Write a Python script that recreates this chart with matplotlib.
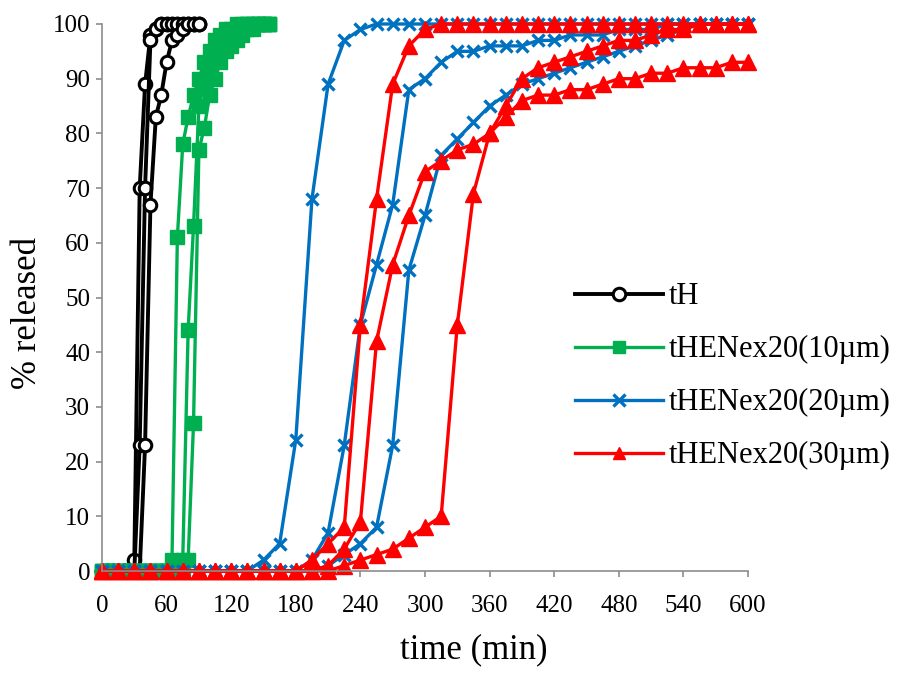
import matplotlib
matplotlib.use('Agg')
import matplotlib.pyplot as plt

plt.rcParams['font.family'] = ['Liberation Serif', 'DejaVu Serif']

# sampling times (min)
t_th = [0, 5, 10, 15, 20, 25, 30, 35, 40, 45, 50, 55, 60, 65, 70, 75, 80, 85, 90]
t_g = [0, 5, 10, 15, 20, 25, 30, 35, 40, 45, 50, 55, 60, 65, 70, 75,
       80, 85, 90, 95, 100, 105, 110, 115, 120, 125, 130, 135, 140, 145, 150, 155]
t_br = [0, 15, 30, 45, 60, 75, 90, 105, 120, 135, 150, 165, 180, 195, 210,
        225, 240, 255, 270, 285, 300, 315, 330, 345, 360, 375, 390, 405, 420,
        435, 450, 465, 480, 495, 510, 525, 540, 555, 570, 585, 600]

# tH, three replicates
th_1 = [0, 0, 0, 0, 0, 0, 2, 70, 89, 98, 99, 100, 100, 100, 100, 100, 100, 100, 100]
th_2 = [0, 0, 0, 0, 0, 0, 0, 23, 70, 97, 99, 100, 100, 100, 100, 100, 100, 100, 100]
th_3 = [0, 0, 0, 0, 0, 0, 0, 0, 23, 67, 83, 87, 93, 97, 98, 99, 100, 100, 100]

# tHENex20 (10 um)
g_1 = [0, 0, 0, 0, 0, 0, 0, 0, 0, 0, 0, 0, 0, 2, 61, 78,
       83, 87, 90, 93, 95, 97, 98, 99, 99, 100, 100, 100, 100, 100, 100, 100]
g_2 = [0, 0, 0, 0, 0, 0, 0, 0, 0, 0, 0, 0, 0, 0, 0, 2,
       44, 63, 85, 89, 92, 94, 96, 97, 98, 99, 99, 100, 100, 100, 100, 100]
g_3 = [0, 0, 0, 0, 0, 0, 0, 0, 0, 0, 0, 0, 0, 0, 0, 0,
       2, 27, 77, 81, 87, 90, 93, 95, 96, 97, 98, 99, 99, 100, 100, 100]

# tHENex20 (20 um)
b_1 = [0, 0, 0, 0, 0, 0, 0, 0, 0, 0, 2, 5, 24, 68, 89, 97, 99,
       100, 100, 100, 100, 100, 100, 100, 100, 100, 100, 100, 100, 100, 100, 100,
       100, 100, 100, 100, 100, 100, 100, 100, 100]
b_2 = [0, 0, 0, 0, 0, 0, 0, 0, 0, 0, 0, 0, 0, 2, 7, 23, 45, 56, 67, 88,
       90, 93, 95, 95, 96, 96, 96, 97, 97, 98, 98, 98, 99, 99, 99, 100,
       100, 100, 100, 100, 100]
b_3 = [0, 0, 0, 0, 0, 0, 0, 0, 0, 0, 0, 0, 0, 0, 1, 3, 5, 8, 23, 55,
       65, 76, 79, 82, 85, 87, 89, 90, 91, 92, 93, 94, 95, 96, 97, 98,
       99, 100, 100, 100, 100]

# tHENex20 (30 um)
r_1 = [0, 0, 0, 0, 0, 0, 0, 0, 0, 0, 0, 0, 0, 2, 5, 8, 45, 68, 89, 96,
       99, 100, 100, 100, 100, 100, 100, 100, 100, 100, 100, 100, 100, 100,
       100, 100, 100, 100, 100, 100, 100]
r_2 = [0, 0, 0, 0, 0, 0, 0, 0, 0, 0, 0, 0, 0, 0, 1, 4, 9, 42, 56, 65,
       73, 75, 77, 78, 80, 83, 86, 87, 87, 88, 88, 89, 90, 90, 91, 91,
       92, 92, 92, 93, 93]
r_3 = [0, 0, 0, 0, 0, 0, 0, 0, 0, 0, 0, 0, 0, 0, 0, 1, 2, 3, 4, 6,
       8, 10, 45, 69, 80, 85, 90, 92, 93, 94, 95, 96, 97, 97, 98, 99,
       99, 100, 100, 100, 100]

labels = ['tH', 'tHENex20(10\u00b5m)', 'tHENex20(20\u00b5m)', 'tHENex20(30\u00b5m)']

W, H = 911, 675
fig = plt.figure(figsize=(W / 100, H / 100), dpi=100)
ax = fig.add_axes([102 / W, (H - 571) / H, (748 - 102) / W, (571 - 24) / H])

series = [
    (t_th, [th_1, th_2, th_3], dict(color='black', marker='o', mfc='white', mec='black',
                                    ms=9, mew=2.2, lw=2.8)),
    (t_g, [g_1, g_2, g_3], dict(color='#00B050', marker='s', ms=10, lw=2.4)),
    (t_br, [b_1, b_2, b_3], dict(color='#0070C0', marker='x', ms=9, mew=2.4, lw=2.4)),
    (t_br, [r_1, r_2, r_3], dict(color='#FF0000', marker='^', ms=11, lw=2.4)),
]

for (t, reps, style), lab in zip(series, labels):
    for i, y in enumerate(reps):
        ax.plot(t, y, clip_on=False, label=lab if i == 0 else None, **style)

ax.set_xlim(0, 600)
ax.set_ylim(0, 100)
ax.set_xticks(range(0, 601, 60))
ax.set_yticks(range(0, 101, 10))

for side in ['top', 'right']:
    ax.spines[side].set_visible(False)
for side in ['left', 'bottom']:
    ax.spines[side].set_color('#8c8c8c')
    ax.spines[side].set_linewidth(1.2)
ax.tick_params(axis='both', direction='out', length=4.5, width=1.2, color='#8c8c8c',
               labelsize=18)
ax.tick_params(axis='x', pad=13)
ax.tick_params(axis='y', pad=4)

ax.set_xlabel('time (min)', fontsize=25, va='center')
ax.xaxis.set_label_coords((474 - 102) / 646, (571 - 650) / 547)
ax.set_ylabel('% released', fontsize=25, va='center')
ax.yaxis.set_label_coords((28 - 102) / 646, (571 - 313) / 547)

leg = ax.legend(loc='upper left', bbox_to_anchor=(547 / W, 1 - 255 / H),
                bbox_transform=fig.transFigure, frameon=False, fontsize=22,
                handlelength=2.9, labelspacing=0.78, handletextpad=0.2)
for h in leg.legend_handles:
    h.set_markersize(9)

fig.savefig('out.png', dpi=100)
